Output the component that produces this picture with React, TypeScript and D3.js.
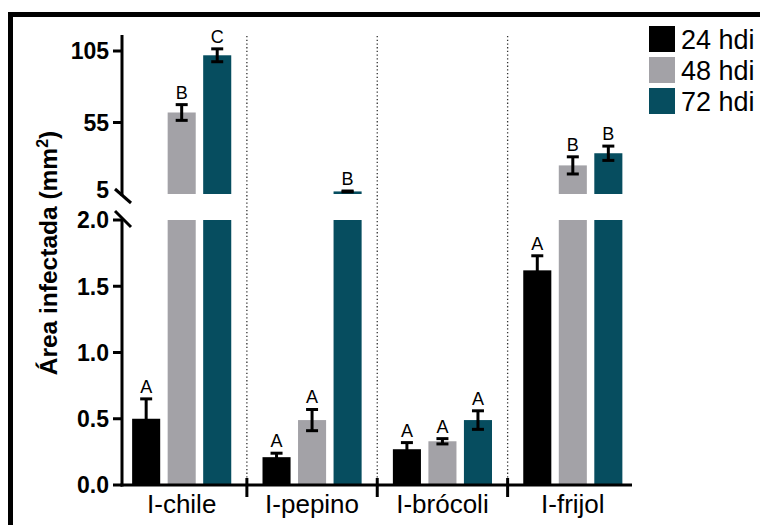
import React from "react";
import * as d3 from "d3";

const categories = ["I-chile", "I-pepino", "I-brócoli", "I-frijol"];
const seriesNames = ["24 hdi", "48 hdi", "72 hdi"];
const values24 = [0.5, 0.21, 0.27, 1.62];
const err24 = [0.15, 0.03, 0.05, 0.11];
const values48 = [62, 0.49, 0.33, 25];
const err48 = [5.5, 0.08, 0.02, 6];
const values72 = [102, 6.8, 0.49, 33.5];
const err72 = [4.5, 0.3, 0.07, 5];
const letters24 = ["A", "A", "A", "A"];
const letters48 = ["B", "A", "A", "B"];
const letters72 = ["C", "B", "A", "B"];
const lowTicks = [0, 0.5, 1.0, 1.5, 2.0];
const highTicks = [5, 55, 105];
const colors = ["#000000", "#a3a2a7", "#064d5f"];

const FONT = "'Liberation Sans', Arial, sans-serif";

export default function App() {
  const W = 760, H = 525;
  const xGroup = d3.scaleBand<string>().domain(categories).range([116.5, 638]);
  const xInner = d3
    .scaleBand<string>()
    .domain(seriesNames)
    .range([0, xGroup.bandwidth()])
    .paddingInner(0.21)
    .paddingOuter(0.44);
  const yLow = d3.scaleLinear().domain([0, 2]).range([485, 220]);
  const yHigh = d3.scaleLinear().domain([5, 105]).range([194, 51]);
  const axisX = 122;

  const series = [
    { name: seriesNames[0], vals: values24, errs: err24, letters: letters24, color: colors[0] },
    { name: seriesNames[1], vals: values48, errs: err48, letters: letters48, color: colors[1] },
    { name: seriesNames[2], vals: values72, errs: err72, letters: letters72, color: colors[2] },
  ];

  const yOf = (v: number) => (v <= 2 ? yLow(v) : yHigh(v));

  const bars: React.ReactNode[] = [];
  const errs: React.ReactNode[] = [];
  const letters: React.ReactNode[] = [];
  series.forEach((s, si) => {
    categories.forEach((c, ci) => {
      const x = (xGroup(c) as number) + (xInner(s.name) as number);
      const w = xInner.bandwidth();
      const v = s.vals[ci];
      const e = s.errs[ci];
      const low = Math.min(v, 2);
      bars.push(
        <rect key={`l${si}${ci}`} x={x} y={yLow(low)} width={w} height={yLow(0) - yLow(low)} fill={s.color} />
      );
      if (v > 2) {
        bars.push(
          <rect key={`h${si}${ci}`} x={x} y={yHigh(v)} width={w} height={yHigh(5) - yHigh(v)} fill={s.color} />
        );
      }
      const cx = x + w / 2;
      const yTop = yOf(v + e);
      const yBot = yOf(v - e);
      const cap = 6;
      errs.push(
        <g key={`e${si}${ci}`} stroke="#000" strokeWidth={3}>
          <line x1={cx} x2={cx} y1={yTop} y2={yBot} />
          <line x1={cx - cap} x2={cx + cap} y1={yTop} y2={yTop} />
          <line x1={cx - cap} x2={cx + cap} y1={yBot} y2={yBot} />
        </g>
      );
      letters.push(
        <text key={`t${si}${ci}`} x={cx} y={yTop - 6} textAnchor="middle" fontSize={18} fontFamily={FONT} fill="#000">
          {s.letters[ci]}
        </text>
      );
    });
  });

  return (
    <svg width={W} height={H} style={{ position: "absolute", left: 0, top: 0, background: "#fff" }}>
      <rect x={0} y={0} width={W} height={H} fill="#fff" />
      {/* frame */}
      <path d={`M10.5,${H + 5} V14.5 H${W + 5}`} fill="none" stroke="#000" strokeWidth={5} />

      {/* dotted separators */}
      {categories.slice(1).map((c) => (
        <line
          key={c}
          x1={xGroup(c) as number}
          x2={xGroup(c) as number}
          y1={36}
          y2={484}
          stroke="#333"
          strokeWidth={1.3}
          strokeDasharray="1.3,2.4"
        />
      ))}

      {bars}
      {errs}
      {letters}

      {/* y axis */}
      <g stroke="#000" strokeWidth={3} fill="none">
        <line x1={axisX} x2={axisX} y1={35} y2={196} />
        <line x1={axisX} x2={axisX} y1={219} y2={486.5} />
        <line x1={115} x2={131} y1={189} y2={203} />
        <line x1={115} x2={131} y1={211} y2={227} />
        {lowTicks.map((t) => (
          <line key={`lt${t}`} x1={113} x2={axisX} y1={yLow(t)} y2={yLow(t)} />
        ))}
        {highTicks
          .filter((t) => t !== 5)
          .map((t) => (
            <line key={`ht${t}`} x1={113} x2={axisX} y1={yHigh(t)} y2={yHigh(t)} />
          ))}
      </g>
      {lowTicks.map((t) => (
        <text
          key={`ll${t}`}
          x={109}
          y={yLow(t)}
          dy="0.36em"
          textAnchor="end"
          fontSize={23}
          fontWeight="bold"
          fontFamily={FONT}
        >
          {d3.format(".1f")(t)}
        </text>
      ))}
      {highTicks.map((t) => (
        <text
          key={`hl${t}`}
          x={109}
          y={t === 5 ? 190 : yHigh(t)}
          dy="0.36em"
          textAnchor="end"
          fontSize={23}
          fontWeight="bold"
          fontFamily={FONT}
        >
          {t}
        </text>
      ))}

      {/* x axis */}
      <g stroke="#000" strokeWidth={3}>
        <line x1={axisX - 1.5} x2={632} y1={485} y2={485} />
        {categories.slice(1).map((c) => (
          <line key={`xt${c}`} x1={xGroup(c) as number} x2={xGroup(c) as number} y1={478} y2={497} />
        ))}
      </g>
      {categories.map((c) => (
        <text
          key={`xl${c}`}
          x={(xGroup(c) as number) + xGroup.bandwidth() / 2}
          y={513}
          textAnchor="middle"
          fontSize={26}
          fontFamily={FONT}
        >
          {c}
        </text>
      ))}

      {/* y label */}
      <text
        transform="translate(57,253) rotate(-90)"
        textAnchor="middle"
        fontSize={24.5}
        fontWeight="bold"
        fontFamily={FONT}
      >
        Área infectada (mm<tspan dy={-9} fontSize={16}>2</tspan>
        <tspan dy={9}>)</tspan>
      </text>

      {/* legend */}
      {series.map((s, i) => (
        <g key={`lg${s.name}`}>
          <rect x={649} y={26 + i * 31} width={26} height={26} fill={s.color} />
          <text x={681} y={39 + i * 31} dy="0.36em" fontSize={27} fontFamily={FONT}>
            {s.name}
          </text>
        </g>
      ))}
    </svg>
  );
}
